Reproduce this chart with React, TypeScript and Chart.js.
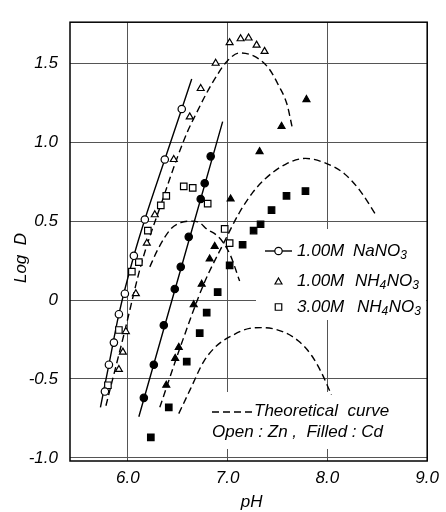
import { useEffect, useRef } from 'react';
import { Chart, registerables } from 'chart.js';

Chart.register(...registerables);

const FONT = '"Liberation Sans", Arial, Helvetica, sans-serif';

// Axis ticks
const phTicks = [6, 7, 8, 9];
const phTickLabels = ['6.0', '7.0', '8.0', '9.0'];
const logDTicks = [-1, -0.5, 0, 0.5, 1, 1.5];
const logDTickLabels = ['-1.0', '-0.5', '0', '0.5', '1.0', '1.5'];

// Zn, 1.00 M NaNO3 (open circles)
const znNaPH = [5.77, 5.81, 5.86, 5.91, 5.97, 6.06, 6.17, 6.37, 6.54];
const znNaLogD = [-0.58, -0.41, -0.27, -0.09, 0.04, 0.28, 0.51, 0.89, 1.21];

// Cd, 1.00 M NaNO3 (filled circles)
const cdNaPH = [6.16, 6.26, 6.36, 6.47, 6.53, 6.61, 6.73, 6.77, 6.83];
const cdNaLogD = [-0.62, -0.41, -0.16, 0.07, 0.21, 0.4, 0.64, 0.74, 0.91];

// Zn, 1.00 M NH4NO3 (open triangles)
const znAm1PH = [5.91, 5.95, 5.98, 6.08, 6.19, 6.27, 6.46, 6.62, 6.73, 6.88, 7.02, 7.13, 7.21, 7.29, 7.37];
const znAm1LogD = [-0.44, -0.33, -0.2, 0.04, 0.36, 0.54, 0.89, 1.16, 1.34, 1.5, 1.63, 1.655, 1.66, 1.615, 1.575];

// Zn, 3.00 M NH4NO3 (open squares)
const znAm3PH = [5.8, 5.91, 6.04, 6.11, 6.2, 6.33, 6.385, 6.56, 6.65, 6.8, 6.97, 7.02];
const znAm3LogD = [-0.54, -0.19, 0.18, 0.24, 0.44, 0.6, 0.66, 0.72, 0.71, 0.61, 0.45, 0.36];

// Cd, 1.00 M NH4NO3 (filled triangles)
const cdAm1PH = [6.385, 6.474, 6.51, 6.66, 6.74, 6.82, 6.87, 7.03, 7.32, 7.54, 7.79];
const cdAm1LogD = [-0.54, -0.37, -0.3, -0.03, 0.1, 0.26, 0.34, 0.64, 0.94, 1.1, 1.27];

// Cd, 3.00 M NH4NO3 (filled squares)
const cdAm3PH = [6.23, 6.41, 6.59, 6.72, 6.79, 6.9, 7.02, 7.15, 7.26, 7.33, 7.44, 7.59, 7.78];
const cdAm3LogD = [-0.87, -0.68, -0.39, -0.21, -0.08, 0.05, 0.22, 0.35, 0.44, 0.48, 0.57, 0.66, 0.69];

// Drawn trend lines through the NaNO3 data
const znNaLinePH = [5.725, 5.81, 5.91, 6.06, 6.17, 6.37, 6.54, 6.64];
const znNaLineLogD = [-0.68, -0.41, -0.09, 0.28, 0.51, 0.89, 1.21, 1.4];
const cdNaLinePH = [6.11, 6.95];
const cdNaLineLogD = [-0.74, 1.13];

// Theoretical curves (dashed)
const thZnAm1PH = [5.78, 5.96, 6.14, 6.34, 6.5, 6.6, 6.68, 6.78, 6.89, 6.99, 7.12, 7.28, 7.415, 7.51, 7.595, 7.645];
const thZnAm1LogD = [-0.67, -0.22, 0.24, 0.62, 0.91, 1.07, 1.175, 1.3, 1.42, 1.51, 1.565, 1.54, 1.465, 1.36, 1.24, 1.1];
const thZnAm3PH = [6.22, 6.3, 6.43, 6.53, 6.64, 6.72, 6.79, 6.89, 6.96, 7.03, 7.12];
const thZnAm3LogD = [0.21, 0.32, 0.45, 0.49, 0.5, 0.49, 0.45, 0.41, 0.36, 0.28, 0.12];
const thCdAm1PH = [6.32, 6.53, 6.76, 6.96, 7.12, 7.25, 7.38, 7.58, 7.78, 7.97, 8.17, 8.33, 8.49];
const thCdAm1LogD = [-0.68, -0.29, 0.1, 0.36, 0.556, 0.68, 0.77, 0.86, 0.897, 0.87, 0.8, 0.69, 0.535];
const thCdAm3PH = [6.51, 6.63, 6.76, 6.89, 7.06, 7.22, 7.35, 7.55, 7.71, 7.84, 7.94, 8.04];
const thCdAm3LogD = [-0.72, -0.56, -0.39, -0.29, -0.22, -0.18, -0.175, -0.2, -0.26, -0.35, -0.46, -0.6];

const pts = (xs: number[], ys: number[]) => xs.map((x, i) => ({ x, y: ys[i] }));

const markerSet = (label: string, xs: number[], ys: number[], style: string, filled: boolean, r: number) => ({
  label,
  data: pts(xs, ys),
  showLine: false,
  pointStyle: style,
  pointRadius: r,
  pointHoverRadius: r,
  pointBackgroundColor: filled ? '#000' : '#fff',
  pointBorderColor: '#000',
  pointBorderWidth: 1.2,
  order: 0,
});

const curve = (label: string, xs: number[], ys: number[], dashed: boolean) => ({
  label,
  data: pts(xs, ys),
  showLine: true,
  pointRadius: 0,
  pointHoverRadius: 0,
  borderColor: '#000',
  borderWidth: 1.4,
  borderDash: dashed ? [7, 4] : [],
  cubicInterpolationMode: 'monotone',
  fill: false,
  order: 1,
});

type Part = [string, boolean?];

function drawParts(ctx: CanvasRenderingContext2D, parts: Part[], x: number, y: number) {
  let cx = x;
  for (const [text, sub] of parts) {
    ctx.font = sub ? `italic 12px ${FONT}` : `italic 17px ${FONT}`;
    ctx.fillText(text, cx, sub ? y + 5 : y);
    cx += ctx.measureText(text).width + (sub ? 0.5 : 0);
  }
}

function drawMarker(ctx: CanvasRenderingContext2D, style: string, x: number, y: number, r: number) {
  ctx.save();
  ctx.fillStyle = '#fff';
  ctx.strokeStyle = '#000';
  ctx.lineWidth = 1.2;
  ctx.setLineDash([]);
  ctx.beginPath();
  if (style === 'circle') {
    ctx.arc(x, y, r, 0, Math.PI * 2);
  } else if (style === 'triangle') {
    ctx.moveTo(x, y - r);
    ctx.lineTo(x + r * 0.866, y + r * 0.5);
    ctx.lineTo(x - r * 0.866, y + r * 0.5);
    ctx.closePath();
  } else {
    const s = r * Math.SQRT1_2;
    ctx.rect(x - s, y - s, 2 * s, 2 * s);
  }
  ctx.fill();
  ctx.stroke();
  ctx.restore();
}

const paper = {
  id: 'paper',
  beforeDraw(chart: any) {
    const { ctx, width, height } = chart;
    ctx.save();
    ctx.fillStyle = '#fff';
    ctx.fillRect(0, 0, width, height);
    ctx.restore();
  },
  beforeDatasetsDraw(chart: any) {
    const { ctx, chartArea: a } = chart;
    ctx.save();
    // grid is left open behind the key and the note
    ctx.fillStyle = '#fff';
    ctx.fillRect(256, 229, a.right - 257, 91);
    ctx.fillRect(205, 392, 192, 57);
    // plot frame
    ctx.strokeStyle = '#000';
    ctx.lineWidth = 1.5;
    ctx.strokeRect(a.left, a.top, a.right - a.left, a.bottom - a.top);
    ctx.restore();
  },
  afterDraw(chart: any) {
    const { ctx, chartArea: a } = chart;
    ctx.save();
    ctx.fillStyle = '#000';
    ctx.strokeStyle = '#000';
    ctx.textBaseline = 'middle';
    ctx.textAlign = 'left';

    // key
    ctx.lineWidth = 1.4;
    ctx.beginPath();
    ctx.moveTo(265, 251);
    ctx.lineTo(292, 251);
    ctx.stroke();
    drawMarker(ctx, 'circle', 278.5, 251, 3.7);
    drawMarker(ctx, 'triangle', 278.5, 282, 4);
    drawMarker(ctx, 'rect', 278.5, 307, 4.6);

    ctx.fillStyle = '#000';
    drawParts(ctx, [['1.00M']], 297, 251);
    drawParts(ctx, [['NaNO'], ['3', true]], 353, 251);
    drawParts(ctx, [['1.00M']], 297, 281);
    drawParts(ctx, [['NH'], ['4', true], ['NO'], ['3', true]], 355, 281);
    drawParts(ctx, [['3.00M']], 297, 307);
    drawParts(ctx, [['NH'], ['4', true], ['NO'], ['3', true]], 357, 307);

    // note
    ctx.lineWidth = 1.4;
    ctx.setLineDash([7, 4]);
    ctx.beginPath();
    ctx.moveTo(212, 412);
    ctx.lineTo(253, 412);
    ctx.stroke();
    ctx.setLineDash([]);
    drawParts(ctx, [['Theoretical  curve']], 254, 411);
    drawParts(ctx, [['Open : Zn ,  Filled : Cd']], 212, 432);

    // axis titles
    ctx.font = `italic 17px ${FONT}`;
    ctx.textAlign = 'center';
    ctx.fillText('pH', (a.left + a.right) / 2 + 3, 502);
    ctx.translate(21, 258);
    ctx.rotate(-Math.PI / 2);
    ctx.fillText('Log  D', 0, 0);
    ctx.restore();
  },
};

const tickFont = { family: FONT, size: 17, style: 'italic' as const };

export default function App() {
  const ref = useRef<HTMLCanvasElement>(null);

  useEffect(() => {
    const canvas = ref.current;
    if (!canvas) return;
    const chart = new Chart(canvas, {
      type: 'scatter',
      data: {
        datasets: [
          markerSet('Zn 1.00M NaNO3', znNaPH, znNaLogD, 'circle', false, 3.7),
          markerSet('Cd 1.00M NaNO3', cdNaPH, cdNaLogD, 'circle', true, 3.7),
          markerSet('Zn 1.00M NH4NO3', znAm1PH, znAm1LogD, 'triangle', false, 4),
          markerSet('Cd 1.00M NH4NO3', cdAm1PH, cdAm1LogD, 'triangle', true, 4),
          markerSet('Zn 3.00M NH4NO3', znAm3PH, znAm3LogD, 'rect', false, 4.6),
          markerSet('Cd 3.00M NH4NO3', cdAm3PH, cdAm3LogD, 'rect', true, 4.6),
          curve('Zn NaNO3 line', znNaLinePH, znNaLineLogD, false),
          curve('Cd NaNO3 line', cdNaLinePH, cdNaLineLogD, false),
          curve('Theoretical Zn 1.00M NH4NO3', thZnAm1PH, thZnAm1LogD, true),
          curve('Theoretical Zn 3.00M NH4NO3', thZnAm3PH, thZnAm3LogD, true),
          curve('Theoretical Cd 1.00M NH4NO3', thCdAm1PH, thCdAm1LogD, true),
          curve('Theoretical Cd 3.00M NH4NO3', thCdAm3PH, thCdAm3LogD, true),
        ] as any,
      },
      options: {
        responsive: false,
        animation: false,
        devicePixelRatio: 1,
        events: [],
        layout: { padding: { top: 12, right: 13, left: 0, bottom: 0 } },
        plugins: { legend: { display: false }, tooltip: { enabled: false } },
        scales: {
          x: {
            type: 'linear',
            min: 5.42,
            max: 9.0,
            afterBuildTicks: (s: any) => {
              s.ticks = phTicks.map((v) => ({ value: v }));
            },
            afterFit: (s: any) => {
              s.height = 51;
            },
            grid: { color: '#555', lineWidth: 1, drawTicks: false },
            border: { display: false },
            ticks: {
              padding: 7,
              color: '#000',
              font: tickFont,
              maxRotation: 0,
              autoSkip: false,
              callback: (v: any) => phTickLabels[phTicks.indexOf(Number(v))] ?? '',
            },
          },
          y: {
            type: 'linear',
            min: -1.02,
            max: 1.76,
            afterBuildTicks: (s: any) => {
              s.ticks = logDTicks.map((v) => ({ value: v }));
            },
            afterFit: (s: any) => {
              s.width = 70;
            },
            grid: { color: '#555', lineWidth: 1, drawTicks: false },
            border: { display: false },
            ticks: {
              padding: 12,
              color: '#000',
              font: tickFont,
              autoSkip: false,
              callback: (v: any) => logDTickLabels[logDTicks.indexOf(Number(v))] ?? '',
            },
          },
        },
      },
      plugins: [paper],
    } as any);
    return () => chart.destroy();
  }, []);

  return (
    <div style={{ position: 'absolute', left: 0, top: 0, width: 446, height: 512, background: '#fff' }}>
      <canvas ref={ref} width={446} height={512} style={{ display: 'block', width: 446, height: 512 }} />
    </div>
  );
}
